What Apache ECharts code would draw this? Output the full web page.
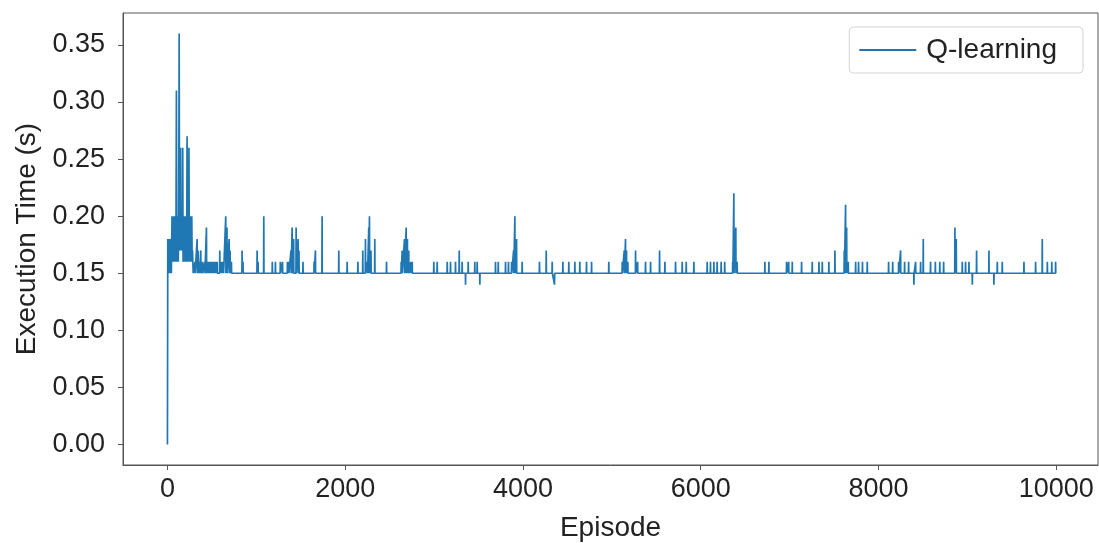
<!DOCTYPE html>
<html>
<head>
<meta charset="utf-8">
<script src="https://cdn.jsdelivr.net/npm/echarts@6/dist/echarts.min.js"></script>
<style>
html,body{margin:0;padding:0;background:#fff;}
#chart{width:1099px;height:543px;}
</style>
</head>
<body>
<div id="chart"></div>
<script>
// ---- data ----
const seriesName = 'Q-learning';
const xTicks = [0, 2000, 4000, 6000, 8000, 10000];
const yTicks = [0.00, 0.05, 0.10, 0.15, 0.20, 0.25, 0.30, 0.35];
const baseValue = 0.15;      // resting execution time
const lastEpisode = 9999;

// dense early phase (episode, value)
const earlyEpisodes = [0, 4, 8, 12, 16, 20, 24, 28, 32, 36, 40, 44, 48, 52, 56, 60, 64, 68, 72, 76, 80, 84, 88, 92, 96, 101, 106, 110, 114, 118, 122, 127, 132, 136, 140, 144, 148, 152, 156, 160, 164, 168, 172, 176, 180, 184, 188, 192, 196, 200, 204, 208, 212, 216, 221, 226, 230, 234, 238, 242, 246, 250, 254, 258, 262, 266, 270, 274, 278, 282, 286, 290];
const earlyValues   = [0.00, 0.18, 0.15, 0.18, 0.15, 0.17, 0.18, 0.15, 0.18, 0.16, 0.18, 0.15, 0.18, 0.20, 0.16, 0.20, 0.17, 0.20, 0.16, 0.20, 0.17, 0.20, 0.16, 0.20, 0.18, 0.31, 0.16, 0.20, 0.17, 0.20, 0.16, 0.20, 0.36, 0.17, 0.20, 0.19, 0.26, 0.17, 0.20, 0.18, 0.20, 0.17, 0.26, 0.16, 0.20, 0.17, 0.16, 0.20, 0.17, 0.20, 0.16, 0.17, 0.20, 0.16, 0.27, 0.17, 0.20, 0.16, 0.20, 0.26, 0.17, 0.20, 0.16, 0.20, 0.16, 0.20, 0.17, 0.20, 0.16, 0.17, 0.16, 0.15];

// isolated spikes after the early phase
const spikeEpisodes = [310, 334, 345, 360, 375, 395, 420, 439, 460, 480, 500, 520, 540, 560, 589, 610, 630, 656, 670, 694, 705, 720, 840, 850, 1009, 1020, 1084, 1180, 1215, 1270, 1295, 1350, 1365, 1390, 1403, 1420, 1448, 1470, 1480, 1525, 1650, 1665, 1740, 1928, 2022, 2143, 2198, 2228, 2250, 2265, 2273, 2290, 2333, 2465, 2630, 2641, 2667, 2686, 2700, 2715, 2738, 2754, 2997, 3035, 3148, 3185, 3241, 3283, 3316, 3354, 3384, 3458, 3485, 3515, 3691, 3722, 3804, 3837, 3872, 3895, 3909, 3928, 3991, 4186, 4262, 4329, 4355, 4449, 4516, 4584, 4640, 4715, 4772, 4966, 5117, 5140, 5154, 5165, 5180, 5267, 5290, 5379, 5436, 5537, 5597, 5717, 5792, 5837, 5923, 6073, 6110, 6148, 6185, 6230, 6270, 6360, 6373, 6395, 6410, 6722, 6767, 6966, 6990, 7030, 7135, 7255, 7330, 7368, 7442, 7510, 7615, 7630, 7642, 7660, 7743, 7776, 7820, 7874, 8114, 8160, 8227, 8249, 8294, 8339, 8399, 8418, 8474, 8504, 8586, 8640, 8690, 8733, 8860, 8875, 8943, 8980, 9018, 9056, 9104, 9243, 9299, 9337, 9393, 9637, 9768, 9843, 9900, 9950, 9993];
const spikeValues   = [0.16, 0.18, 0.17, 0.16, 0.17, 0.16, 0.16, 0.19, 0.16, 0.16, 0.16, 0.16, 0.16, 0.16, 0.17, 0.16, 0.16, 0.20, 0.19, 0.18, 0.17, 0.16, 0.17, 0.16, 0.17, 0.16, 0.20, 0.16, 0.16, 0.16, 0.16, 0.16, 0.16, 0.17, 0.19, 0.18, 0.19, 0.18, 0.17, 0.16, 0.16, 0.17, 0.20, 0.17, 0.16, 0.16, 0.17, 0.18, 0.16, 0.19, 0.20, 0.17, 0.18, 0.16, 0.16, 0.17, 0.18, 0.19, 0.18, 0.17, 0.16, 0.16, 0.16, 0.16, 0.16, 0.16, 0.16, 0.17, 0.16, 0.14, 0.16, 0.16, 0.16, 0.14, 0.16, 0.16, 0.16, 0.16, 0.16, 0.17, 0.20, 0.18, 0.16, 0.16, 0.17, 0.16, 0.14, 0.16, 0.16, 0.16, 0.16, 0.16, 0.16, 0.16, 0.16, 0.17, 0.18, 0.17, 0.16, 0.17, 0.16, 0.16, 0.16, 0.17, 0.16, 0.16, 0.16, 0.16, 0.16, 0.16, 0.16, 0.16, 0.16, 0.16, 0.16, 0.16, 0.22, 0.19, 0.16, 0.16, 0.16, 0.16, 0.16, 0.16, 0.16, 0.16, 0.16, 0.16, 0.16, 0.17, 0.17, 0.21, 0.19, 0.16, 0.16, 0.16, 0.16, 0.16, 0.16, 0.16, 0.16, 0.17, 0.16, 0.16, 0.14, 0.16, 0.16, 0.18, 0.16, 0.16, 0.16, 0.16, 0.19, 0.18, 0.16, 0.16, 0.16, 0.14, 0.17, 0.17, 0.14, 0.16, 0.16, 0.16, 0.16, 0.18, 0.16, 0.16, 0.16];

// ---- build series points ----
const points = earlyEpisodes.map((e, i) => [e, earlyValues[i]]);
spikeEpisodes.forEach((e, i) => {
  points.push([e - 2, baseValue]);
  points.push([e, spikeValues[i]]);
  points.push([e + 2, baseValue]);
});
points.push([lastEpisode, baseValue]);

const FONT = '"Liberation Sans", Arial, Helvetica, sans-serif';
const TXT = '#222';
const LINE = '#1f77b4';
const chart = echarts.init(document.getElementById('chart'), null, {renderer: 'canvas'});
chart.setOption({
  animation: false,
  backgroundColor: '#fff',
  textStyle: {fontFamily: FONT},
  grid: {
    left: 123, top: 13, right: 1, bottom: 78,
    containLabel: false, outerBoundsMode: 'none',
    show: true, borderColor: '#555', borderWidth: 1, backgroundColor: 'transparent'
  },
  legend: {
    show: true,
    right: 16, top: 27,
    data: [{name: seriesName, icon: 'rect', itemStyle: {color: LINE}}],
    itemWidth: 57, itemHeight: 2, itemGap: 10,
    padding: [9, 26, 9, 10],
    borderColor: '#d4d4d4', borderWidth: 1, borderRadius: 4,
    backgroundColor: '#fff',
    textStyle: {fontFamily: FONT, fontSize: 28, color: TXT, lineHeight: 28, padding: [0, 0, 0, 5]}
  },
  xAxis: {
    type: 'value',
    min: -500, max: 10470,
    name: 'Episode', nameLocation: 'middle', nameGap: 49,
    nameTextStyle: {fontFamily: FONT, fontSize: 28, color: TXT},
    splitLine: {show: false},
    axisLine: {show: true, onZero: false, lineStyle: {color: '#555', width: 1}},
    axisTick: {show: true, length: 5, customValues: xTicks, lineStyle: {color: '#555'}},
    axisLabel: {customValues: xTicks, fontFamily: FONT, fontSize: 27, color: TXT, margin: 11,
      formatter: v => String(Math.round(v))}
  },
  yAxis: {
    type: 'value',
    min: -0.018, max: 0.378,
    name: 'Execution Time (s)', nameLocation: 'middle', nameGap: 80,
    nameTextStyle: {fontFamily: FONT, fontSize: 28, color: TXT},
    splitLine: {show: false},
    axisLine: {show: true, onZero: false, lineStyle: {color: '#555', width: 1}},
    axisTick: {show: true, length: 5, customValues: yTicks, lineStyle: {color: '#555'}},
    axisLabel: {customValues: yTicks, fontFamily: FONT, fontSize: 27, color: TXT, margin: 18,
      formatter: v => v.toFixed(2)}
  },
  series: [{
    name: seriesName,
    type: 'line',
    data: points,
    symbol: 'none',
    showSymbol: false,
    sampling: null,
    lineStyle: {color: LINE, width: 1.7},
    itemStyle: {color: LINE}
  }]
});
</script>
</body>
</html>
